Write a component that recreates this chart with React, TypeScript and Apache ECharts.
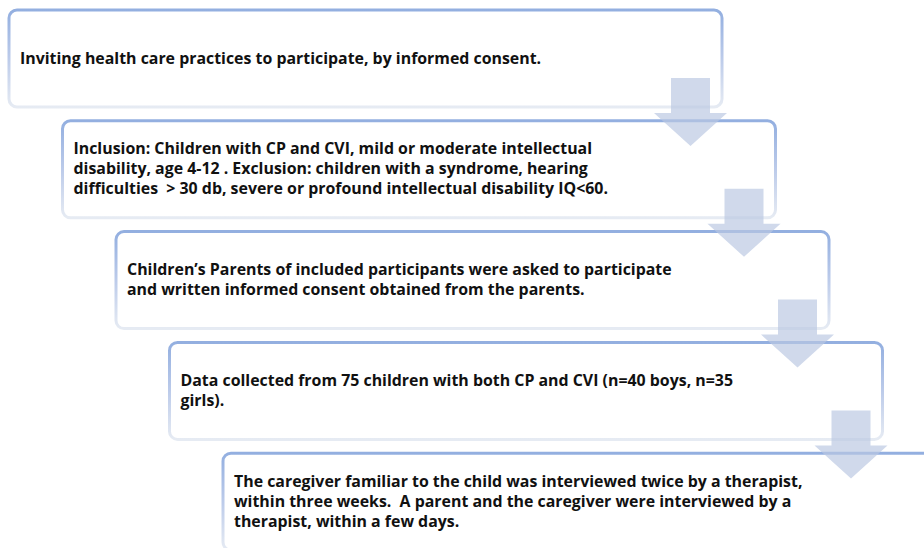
import React, { useEffect, useRef } from "react";
import * as echarts from "echarts";

const steps: string[][] = [
  ["Inviting health care practices to participate, by informed consent."],
  [
    "Inclusion: Children with CP and CVI, mild or moderate intellectual",
    "disability, age 4-12 . Exclusion: children with a syndrome, hearing",
    "difficulties  > 30 db, severe or profound intellectual disability IQ<60.",
  ],
  [
    "Children\u2019s Parents of included participants were asked to participate",
    "and written informed consent obtained from the parents.",
  ],
  [
    "Data collected from 75 children with both CP and CVI (n=40 boys, n=35",
    "girls).",
  ],
  [
    "The caregiver familiar to the child was interviewed twice by a therapist,",
    "within three weeks.  A parent and the caregiver were interviewed by a",
    "therapist, within a few days.",
  ],
];

export default function App() {
  const ref = useRef<HTMLDivElement>(null);
  useEffect(() => {
    if (!ref.current) return;
    const chart = echarts.init(ref.current, undefined, { renderer: "svg" });
    const boxW = 713;
    const boxH = 97;
    const stepX = 53.5;
    const stepY = 110.8;
    const boxes: any[] = [];
    const arrows: any[] = [];
    const texts: any[] = [];
    steps.forEach((lines, i) => {
      const x = 9 + stepX * i;
      const y = 10 + stepY * i;
      boxes.push({
        type: "rect",
        shape: { x, y, width: boxW, height: boxH, r: 8 },
        style: {
          fill: "#ffffff",
          stroke: new echarts.graphic.LinearGradient(0, 0, 0, 1, [
            { offset: 0, color: "#93afe0" },
            { offset: 0.5, color: "#bccbea" },
            { offset: 1, color: "#e6ebf3" },
          ]),
          lineWidth: 3,
        },
        z: 1,
      });
      texts.push({
        type: "text",
        x: x + 11,
        y: y + boxH / 2 - 1,
        style: {
          text: lines.join("\n"),
          font: "bold 15.9px 'Open Sans'",
          lineHeight: 20,
          fill: "#111111",
          textVerticalAlign: "middle",
          textAlign: "left",
        },
        z: 3,
      });
      if (i < steps.length - 1) {
        const right = x + boxW;
        const bottom = y + boxH;
        arrows.push({
          type: "polygon",
          shape: {
            points: [
              [right - 51, bottom - 29],
              [right - 12, bottom - 29],
              [right - 12, bottom + 6],
              [right + 5, bottom + 6],
              [right - 31.5, bottom + 39],
              [right - 68, bottom + 6],
              [right - 51, bottom + 6],
            ],
          },
          style: { fill: "rgba(186,199,226,0.68)" },
          z: 4,
        });
      }
    });
    chart.setOption({
      animation: false,
      backgroundColor: "#ffffff",
      graphic: [...boxes, ...texts, ...arrows],
    });
    return () => chart.dispose();
  }, []);
  return <div ref={ref} style={{ width: 924, height: 548, position: "absolute", left: 0, top: 0 }} />;
}
